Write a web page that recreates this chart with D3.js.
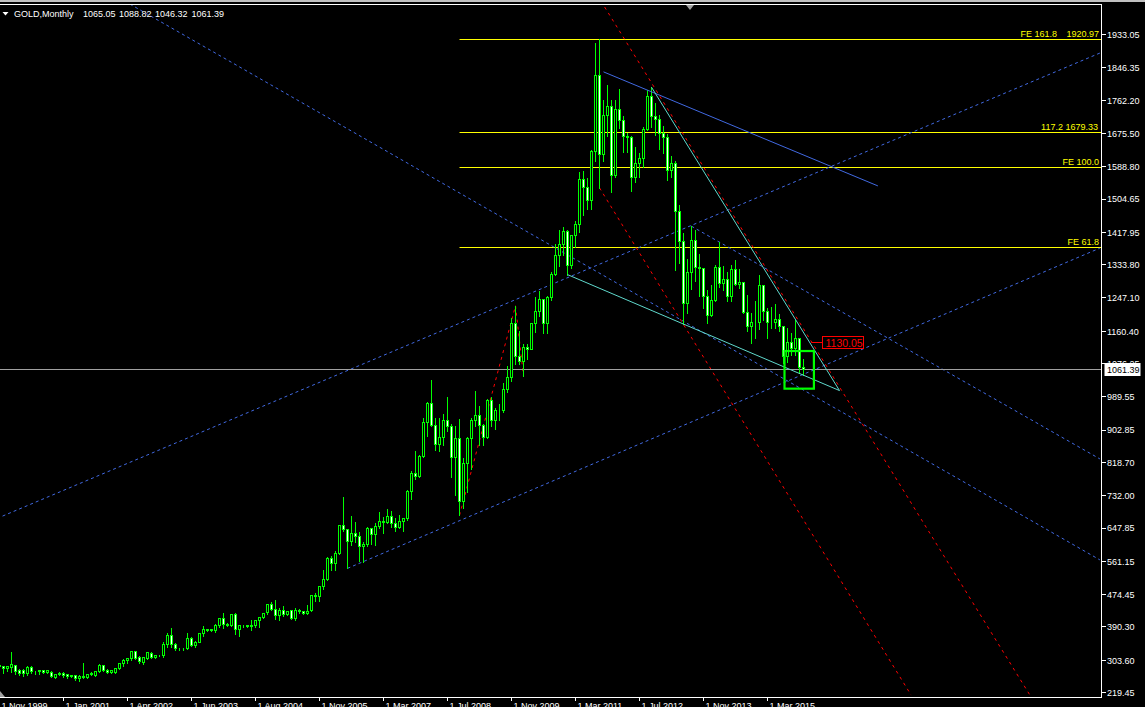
<!DOCTYPE html>
<html><head><meta charset="utf-8">
<script src="https://cdn.jsdelivr.net/npm/d3@7"></script>
<style>
body{margin:0;background:#000;overflow:hidden}
svg{display:block}
text{font-family:"Liberation Sans",Arial,sans-serif;font-size:9px}
</style>
</head><body>
<svg id="c" width="1145" height="707"></svg>
<script>
// ---------------- DATA ----------------
const symbolTitle = "GOLD,Monthly";
const titleValues = ["1065.05","1088.82","1046.32","1061.39"];

// monthly bars, index 0 = 1 Nov 1999 ... index 201 = Dec 2015
const open = [291,287,282,285,289,276,276,268,286,275,275,276,272,271,260,267,270,266,261,263,256,262,260,267,263,274,290,277,272,273,282,294,302,307,326,311,298,309,322,312,316,315,346,367,346,334,333,334,361,341,351,373,383,382,381,395,413,398,393,424,384,393,393,391,393,407,416,427,450,436,419,434,424,432,413,434,430,425,433,472,
470,495,513,569,556,583,654,643,614,633,625,599,604,646,632,651,665,662,678,659,650,665,672,743,789,783,834,923,972,916,865,885,927,912,833,880,718,815,882,928,942,916,884,979,927,955,955,1008,1040,1181,1096,1083,1118,1113,1180,1213,1244,1181,1248,1307,1357,1386,1421,1332,1409,1439,1556,1536,1502,1628,1826,1620,1723,1746,1565,1738,1710,1668,1664,1561,1598,1610,1687,1772,1719,1711,1675,1664,1578,1597,1472,1393,1234,1313,1396,1327,1323,1250,1202,1240,1326,1284,1296,1250,1322,1282,1287,1210,1172,1183,1184,1279,1213,1183,1182,1190,1172,1095,1132,1115,1142,1065.05];
const high = [294,289,290,326,292,282,280,290,288,277,276,277,276,275,268,272,274,268,265,265,264,297,268,272,276,294,292,281,277,283,296,307,310,328,329,314,312,324,325,318,318,352,374,388,348,336,335,374,365,353,375,393,385,384,397,415,428,402,425,428,396,395,395,408,409,417,426,451,456,461,439,445,432,434,439,436,432,447,474,479,
498,540,572,575,588,655,730,643,679,664,637,611,650,648,660,690,676,697,692,673,683,675,746,796,848,839,934,976,1033,934,935,945,988,920,915,933,830,885,934,1006,965,919,983,990,961,970,1025,1070,1195,1227,1161,1126,1127,1183,1249,1265,1245,1253,1315,1388,1424,1432,1424,1411,1447,1575,1577,1560,1632,1912,1921,1764,1803,1764,1764,1792,1720,1678,1669,1641,1624,1692,1790,1796,1755,1723,1696,1675,1617,1603,1488,1417,1348,1434,1424,1361,1324,1267,1280,1332,1392,1331,1315,1332,1345,1322,1290,1255,1208,1238,1307,1280,1220,1224,1232,1205,1174,1170,1157,1191,1143,1088.82];
const low = [284,270,277,274,268,265,262,264,270,268,269,271,271,259,257,264,259,258,260,253,250,258,258,265,262,272,275,270,271,270,280,289,296,305,308,297,295,306,309,310,314,311,339,339,330,331,330,332,340,339,350,367,380,379,378,391,387,392,392,372,367,390,389,382,390,391,413,423,434,410,408,419,422,411,408,428,425,424,432,458,
458,490,512,538,540,580,639,543,604,612,561,560,600,607,603,649,634,660,651,641,647,641,670,724,775,782,833,888,913,850,848,863,901,780,735,681,700,742,802,915,864,865,883,915,905,930,950,1003,1030,1075,1075,1044,1088,1113,1158,1201,1155,1157,1243,1306,1330,1360,1308,1326,1381,1418,1462,1478,1478,1603,1534,1603,1670,1522,1563,1690,1627,1627,1527,1548,1562,1589,1684,1693,1672,1635,1625,1555,1562,1321,1338,1180,1208,1271,1292,1251,1221,1182,1200,1238,1277,1268,1240,1240,1281,1273,1207,1161,1131,1142,1167,1190,1142,1170,1170,1162,1077,1080,1098,1098,1052,1046.32];
const close = [287,282,287,292,275,270,268,286,274,275,276,272,276,262,267,270,264,261,263,256,262,259,267,269,274,291,277,272,276,282,294,302,307,326,309,300,310,323,312,316,315,346,367,346,334,333,334,361,341,351,373,383,382,383,395,413,398,393,424,385,393,393,391,393,408,416,425,450,436,419,434,424,431,413,434,430,426,431,472,470,
495,513,569,556,583,654,643,614,633,625,599,604,646,632,651,665,662,678,659,650,665,672,743,789,783,834,923,972,916,865,885,927,912,833,880,718,815,882,928,942,916,884,979,927,955,955,1008,1040,1181,1096,1083,1118,1113,1180,1213,1244,1181,1248,1307,1357,1386,1421,1332,1409,1439,1556,1536,1502,1628,1826,1620,1723,1746,1565,1738,1710,1668,1664,1561,1598,1610,1687,1772,1719,1711,1675,1664,1578,1597,1472,1393,1234,1313,1396,1327,1323,1250,1202,1240,1326,1284,1296,1250,1322,1283,1287,1210,1172,1183,1184,1279,1213,1183,1182,1190,1172,1095,1132,1115,1142,1065,1061.39];

const timeLabels = ["1 Nov 1999","1 Jan 2001","1 Apr 2002","1 Jun 2003","1 Aug 2004","1 Nov 2005","1 Mar 2007","1 Jul 2008","1 Nov 2009","1 Mar 2011","1 Jul 2012","1 Nov 2013","1 Mar 2015"];
const timeLabelBars = [0,16,32,48,64,80,96,112,128,144,160,176,192];

const priceTicks = [1933.05,1846.35,1762.20,1675.50,1588.80,1504.65,1417.95,1333.80,1247.10,1160.40,1076.25,989.55,902.85,818.70,732.00,647.85,561.15,474.45,390.30,303.60,219.45];
const priceTickLabels = ["1933.05","1846.35","1762.20","1675.50","1588.80","1504.65","1417.95","1333.80","1247.10","1160.40","1076.25","989.55","902.85","818.70","732.00","647.85","561.15","474.45","390.30","303.60","219.45"];

// Fibonacci expansion (A, B, C points: bar, price) and levels
const fePoints = [[115,681],[129,1227],[131,1044]];
const feLevels = [1379.1,1586.1,1679.33,1920.97];
const feNames = ["FE 61.8","FE 100.0","117.2","FE 161.8"];
const feValues = ["","","1679.33","1920.97"];

// trend lines: [[bar, price],[bar, price]]
const blueDashed = [
  [[30,2028],[275.1,565]],
  [[173,1434],[275.1,828]],
  [[-2,667],[275.1,1885]],
  [[87,543],[275.1,1377]]
];
const blueSolid = [[[151,1836],[219.6,1539]]];
const cyanLines = [[[163,1796],[210,1006]],[[142,1308],[210,1006]]];
const redDashed = [[[147.6,2067],[257.6,213]],[[150,1534],[227.9,213]]];
const boxRect = [196.25,1109,203.6,1011];
const priceLabel = {bar:203, price:1130.05, text:"1130.05"};
const lastPrice = 1061.39;

// ---------------- LAYOUT ----------------
const plotL=0, plotR=1101, plotT=5, plotB=697;
const svg = d3.select("#c");
const x = d3.scaleLinear().domain([0,201]).range([-0.5,803.5]);
const y = d3.scaleLinear().domain([219.45,1933.05]).range([692.6,34.6]);
const snap = v => Math.round(v-0.5)+0.5;

svg.append("rect").attr("width",1145).attr("height",707).attr("fill","#000");
svg.append("defs").append("clipPath").attr("id","clip")
  .append("rect").attr("x",plotL).attr("y",plotT).attr("width",plotR-plotL).attr("height",plotB-plotT);

const g = svg.append("g").attr("clip-path","url(#clip)");

const line = d3.line().x(d=>x(d[0])).y(d=>y(d[1]));

// FE level lines
g.selectAll(".fe").data(feLevels).join("line")
  .attr("x1",x(fePoints[0][0])).attr("x2",plotR)
  .attr("y1",d=>snap(y(d))).attr("y2",d=>snap(y(d)))
  .attr("stroke","#ffff00").attr("stroke-width",1);

// blue dashed lines
g.selectAll(".bd").data(blueDashed).join("path")
  .attr("d",line).attr("fill","none").attr("stroke","#4169e1").attr("stroke-width",1).attr("stroke-dasharray","3,3");
// red dashed
g.selectAll(".rd").data(redDashed).join("path")
  .attr("d",line).attr("fill","none").attr("stroke","#ff0000").attr("stroke-width",1).attr("stroke-dasharray","3,4");
g.append("path").datum(fePoints).attr("d",line).attr("fill","none")
  .attr("stroke","#ff0000").attr("stroke-width",1).attr("stroke-dasharray","3,4");

// current price line
g.append("line").attr("x1",plotL).attr("x2",plotR).attr("y1",snap(y(lastPrice))).attr("y2",snap(y(lastPrice)))
  .attr("stroke","#a0a0a0").attr("stroke-width",1);

// candles
const idx = d3.range(open.length);
const cg = g.append("g");
cg.selectAll(".wick").data(idx).join("line")
  .attr("x1",i=>snap(x(i))).attr("x2",i=>snap(x(i)))
  .attr("y1",i=>Math.round(y(high[i]))).attr("y2",i=>Math.round(y(low[i]))+1)
  .attr("stroke","#00ff00").attr("stroke-width",1);
cg.selectAll(".body").data(idx).join("rect")
  .attr("x",i=>snap(x(i))-1).attr("width",2)
  .attr("y",i=>snap(y(Math.max(open[i],close[i]))))
  .attr("height",i=>Math.max(0,snap(y(Math.min(open[i],close[i])))-snap(y(Math.max(open[i],close[i])))))
  .attr("fill",i=>close[i]>=open[i]?"#000":"#ffffff")
  .attr("stroke","#00ff00").attr("stroke-width",1);

// blue solid, cyan
g.selectAll(".bs").data(blueSolid).join("path")
  .attr("d",line).attr("fill","none").attr("stroke","#4169e1").attr("stroke-width",1);
g.selectAll(".cy").data(cyanLines).join("path")
  .attr("d",line).attr("fill","none").attr("stroke","#5fd8cc").attr("stroke-width",1);

// green rectangle
g.append("rect").attr("x",x(boxRect[0])).attr("y",y(boxRect[1]))
  .attr("width",x(boxRect[2])-x(boxRect[0])).attr("height",y(boxRect[3])-y(boxRect[1]))
  .attr("fill","none").attr("stroke","#00ff00").attr("stroke-width",2.2);

// price label object
const plx = x(priceLabel.bar), ply = snap(y(priceLabel.price));
g.append("line").attr("x1",plx).attr("x2",plx+11).attr("y1",ply).attr("y2",ply).attr("stroke","#ff0000");
g.append("rect").attr("x",plx+11).attr("y",ply-6).attr("width",41).attr("height",12)
  .attr("fill","#000").attr("stroke","#ff0000");
g.append("text").attr("x",plx+14).attr("y",ply+4.5).attr("fill","#ff0000")
  .style("font-size","10.5px").text(priceLabel.text);

// FE labels
g.selectAll(".fen").data(feLevels).join("text")
  .attr("x",(d,i)=>feValues[i]? (i===3?1057:1098):1099).attr("text-anchor","end")
  .attr("y",d=>snap(y(d))-2.5).attr("fill","#ffff00")
  .text((d,i)=>i===2? feNames[i]+" "+feValues[i] : feNames[i]);
g.append("text").attr("x",1099).attr("text-anchor","end").attr("y",snap(y(feLevels[3]))-2.5)
  .attr("fill","#ffff00").text(feValues[3]);

// ---------------- AXES / FRAME ----------------
svg.append("rect").attr("x",0).attr("y",0).attr("width",1145).attr("height",2).attr("fill","#c0c0c0");
svg.append("line").attr("x1",0).attr("x2",plotR).attr("y1",4.5).attr("y2",4.5).attr("stroke","#fff");
svg.append("line").attr("x1",plotR+0.5).attr("x2",plotR+0.5).attr("y1",4).attr("y2",plotB+1).attr("stroke","#fff");
svg.append("line").attr("x1",0).attr("x2",plotR+1).attr("y1",plotB+0.5).attr("y2",plotB+0.5).attr("stroke","#fff");

// right axis
const ra = svg.append("g");
ra.selectAll("line").data(priceTicks).join("line")
  .attr("x1",plotR+1).attr("x2",plotR+5).attr("y1",d=>snap(y(d))).attr("y2",d=>snap(y(d))).attr("stroke","#fff");
ra.selectAll("text").data(priceTicks).join("text")
  .attr("x",plotR+6).attr("y",d=>y(d)+3.3).attr("fill","#fff").text((d,i)=>priceTickLabels[i]);

// last price box
const lpy = snap(y(lastPrice));
svg.append("rect").attr("x",plotR+3.5).attr("y",lpy-6.5).attr("width",36).attr("height",13).attr("fill","#fff");
svg.append("text").attr("x",plotR+6).attr("y",lpy+3.5).attr("fill","#000").text(d3.format(".2f")(lastPrice));

// bottom axis
const ba = svg.append("g");
ba.selectAll("line").data(timeLabelBars).join("line")
  .attr("x1",i=>snap(x(i))).attr("x2",i=>snap(x(i))).attr("y1",plotB+1).attr("y2",plotB+4).attr("stroke","#fff");
ba.selectAll("text").data(timeLabelBars).join("text")
  .attr("x",i=>x(i)+2).attr("y",709).attr("fill","#fff").text((d,i)=>timeLabels[i]);

// title
svg.append("path").attr("d","M2.5,12 L8.5,12 L5.5,15.5 Z").attr("fill","#fff");
const tx = [14,83,119,155,191.5];
svg.append("text").attr("x",tx[0]).attr("y",17).attr("fill","#fff").text(symbolTitle);
svg.selectAll(".tv").data(titleValues).join("text").attr("x",(d,i)=>tx[i+1]).attr("y",17).attr("fill","#fff").text(d=>d);

// markers
svg.append("path").attr("d","M686,5 L694,5 L690,10 Z").attr("fill","#a0a0a0");
svg.append("path").attr("d","M0,691 L0,697 L5,697 Z").attr("fill","#a0a0a0");
</script>
</body></html>
